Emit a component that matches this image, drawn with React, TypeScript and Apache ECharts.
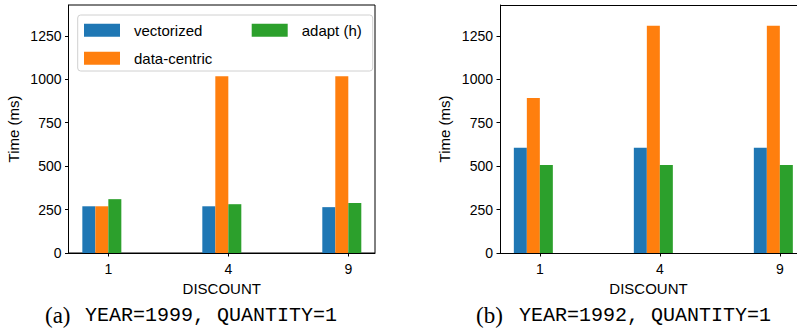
import React, { useEffect, useRef } from "react";
import * as echarts from "echarts";

const categories = ["1", "4", "9"];
const seriesNames = ["vectorized", "data-centric", "adapt (h)"];
const colors = ["#1f77b4", "#ff7f0e", "#2ca02c"];

const leftVectorized = [269, 269, 264];
const leftDataCentric = [269, 1018, 1018];
const leftAdapt = [310, 281, 288];

const rightVectorized = [606, 606, 606];
const rightDataCentric = [892, 1308, 1308];
const rightAdapt = [507, 507, 507];

const yTicks = [0, 250, 500, 750, 1000, 1250];
const captionTags = ["(a)", "(b)"];
const captionTexts = ["YEAR=1999, QUANTITY=1", "YEAR=1992, QUANTITY=1"];

const SANS = "Liberation Sans";
const SERIF = "Liberation Serif";
const MONO = "Liberation Mono";

const panels = [
  [leftVectorized, leftDataCentric, leftAdapt],
  [rightVectorized, rightDataCentric, rightAdapt],
];

export default function App() {
  const ref = useRef<HTMLDivElement>(null);
  useEffect(() => {
    if (!ref.current) return;
    const chart = echarts.init(ref.current, null, { renderer: "svg" });

    // right panel is cut off by the page edge, as in the reference
    const grids = [
      { left: 68.5, top: 5, width: 306.5, height: 248, show: true, borderColor: "#000", borderWidth: 1 },
      { left: 500, top: 5, width: 297, height: 248, show: false },
    ];
    const xMax = [2.2225, 2.143];

    const xAxes = grids.map((_, i) => ({
      type: "value",
      gridIndex: i,
      min: -0.332,
      max: xMax[i],
      name: "DISCOUNT",
      nameLocation: "middle",
      nameGap: 24,
      nameTextStyle: { fontSize: 15, color: "#000", fontFamily: SANS },
      axisLine: { show: true, onZero: false, lineStyle: { color: "#000", width: 1 } },
      axisTick: { show: true, length: 3.5, customValues: [0, 1, 2], lineStyle: { color: "#000" } },
      axisLabel: {
        customValues: [0, 1, 2],
        formatter: (v: number) => categories[Math.round(v)] ?? "",
        fontSize: 14,
        color: "#000",
        fontFamily: SANS,
        margin: 9,
      },
      splitLine: { show: false },
    }));

    const yAxes = grids.map((_, i) => ({
      type: "value",
      gridIndex: i,
      min: 0,
      max: 1428,
      name: "Time (ms)",
      nameLocation: "middle",
      nameGap: 48,
      nameTextStyle: { fontSize: 15, color: "#000", fontFamily: SANS },
      axisLine: { show: true, onZero: false, lineStyle: { color: "#000", width: 1 } },
      axisTick: { show: true, length: 3.5, customValues: yTicks, lineStyle: { color: "#000" } },
      axisLabel: {
        customValues: yTicks,
        formatter: (v: number) => String(v),
        fontSize: 14,
        color: "#000",
        fontFamily: SANS,
        margin: 7,
      },
      splitLine: { show: false },
    }));

    const series: any[] = [];
    panels.forEach((panel, i) => {
      panel.forEach((vals, s) => {
        series.push({
          type: "bar",
          name: seriesNames[s],
          xAxisIndex: i,
          yAxisIndex: i,
          barWidth: 13,
          barGap: "0%",
          itemStyle: { color: colors[s] },
          silent: true,
          data: categories.map((_, k) => [k, vals[k]]),
        });
      });
      // empty fourth slot, as in the original grouped layout
      series.push({
        type: "bar",
        name: "_slot",
        xAxisIndex: i,
        yAxisIndex: i,
        barWidth: 13,
        barGap: "0%",
        silent: true,
        data: [],
      });
    });

    const legendCommon = {
      orient: "vertical",
      top: 22.7,
      itemWidth: 36,
      itemHeight: 13,
      itemGap: 13,
      icon: "rect",
      padding: 0,
      selectedMode: false,
      textStyle: { fontSize: 15, lineHeight: 13, color: "#000", fontFamily: SANS, padding: [0, 0, 0, 9] },
    };

    const graphic: any[] = [
      {
        type: "rect",
        z: 3,
        shape: { x: 77.7, y: 15, width: 295, height: 56, r: 3 },
        style: { fill: "rgba(255,255,255,0.8)", stroke: "#d0d0d0", lineWidth: 1 },
      },
      {
        type: "line",
        z: 3,
        shape: { x1: 500, y1: 5.5, x2: 797, y2: 5.5 },
        style: { stroke: "#000", lineWidth: 1 },
      },
    ];
    const tagX = [45, 476];
    const textX = [85, 519];
    captionTags.forEach((tag, i) => {
      graphic.push({
        type: "text",
        x: tagX[i],
        y: 315,
        style: { text: tag, fontSize: 23, fontFamily: SERIF, fill: "#000", verticalAlign: "middle", align: "left" },
      });
      graphic.push({
        type: "text",
        x: textX[i],
        y: 315,
        style: { text: captionTexts[i], fontSize: 20, fontFamily: MONO, fill: "#000", verticalAlign: "middle", align: "left" },
      });
    });

    chart.setOption({
      animation: false,
      backgroundColor: "#fff",
      grid: grids,
      xAxis: xAxes,
      yAxis: yAxes,
      series,
      legend: [
        { ...legendCommon, left: 84, data: ["vectorized", "data-centric"] },
        { ...legendCommon, left: 251.7, data: ["adapt (h)"] },
      ],
      graphic,
    });
    return () => chart.dispose();
  }, []);
  return <div ref={ref} style={{ position: "absolute", left: 0, top: 0, width: 797, height: 332 }} />;
}
